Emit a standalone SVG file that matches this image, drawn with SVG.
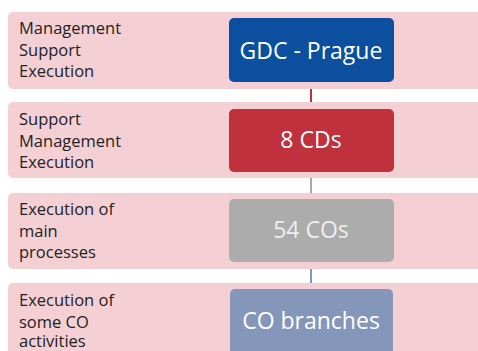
<svg xmlns="http://www.w3.org/2000/svg" width="478" height="351" viewBox="0 0 478 351">
<style>
.band{fill:#f4d0d4}
.lbl{font-family:"Open Sans","Liberation Sans",sans-serif;font-size:16.5px;fill:#222}
.bt{font-family:"Open Sans","Liberation Sans",sans-serif;font-size:23px;fill:#fff;text-anchor:middle}
.con{stroke-width:2;fill:none}
</style>
<rect width="478" height="351" fill="#fff"/>
<g id="connectors">
<line class="con" x1="311" y1="82" x2="311" y2="109" stroke="#c0303c"/>
<line class="con" x1="311" y1="172" x2="311" y2="199" stroke="#a8a8a8"/>
<line class="con" x1="311" y1="262" x2="311" y2="290" stroke="#7f97c4"/>
</g>
<g id="band1">
<rect class="band" x="8" y="12" width="480" height="77" rx="5"/>
<text class="lbl" x="19" y="34">Management</text>
<text class="lbl" x="19" y="56">Support</text>
<text class="lbl" x="19" y="77">Execution</text>
</g>
<g id="band2">
<rect class="band" x="8" y="102" width="480" height="76" rx="5"/>
<text class="lbl" x="19" y="125">Support</text>
<text class="lbl" x="19" y="147">Management</text>
<text class="lbl" x="19" y="168">Execution</text>
</g>
<g id="band3">
<rect class="band" x="8" y="193" width="480" height="76" rx="5"/>
<text class="lbl" x="19" y="215">Execution of</text>
<text class="lbl" x="19" y="237">main</text>
<text class="lbl" x="19" y="258">processes</text>
</g>
<g id="band4">
<rect class="band" x="8" y="283" width="480" height="80" rx="5"/>
<text class="lbl" x="19" y="306">Execution of</text>
<text class="lbl" x="19" y="328">some CO</text>
<text class="lbl" x="19" y="347">activities</text>
</g>
<g id="gdc">
<rect x="229" y="18" width="165" height="64" rx="5" fill="#0b4f9e"/>
<text class="bt" x="311" y="59">GDC - Prague</text>
</g>
<g id="cds">
<rect x="229" y="109" width="165" height="63" rx="5" fill="#c0313d"/>
<text class="bt" x="311" y="148">8 CDs</text>
</g>
<g id="cos">
<rect x="229" y="199" width="165" height="63" rx="5" fill="#acacac"/>
<text class="bt" x="311" y="238" style="fill:#eeeeee">54 COs</text>
</g>
<g id="branches">
<rect x="230" y="289" width="163" height="70" rx="5" fill="#8596bb"/>
<text class="bt" x="311" y="329">CO branches</text>
</g>
</svg>
